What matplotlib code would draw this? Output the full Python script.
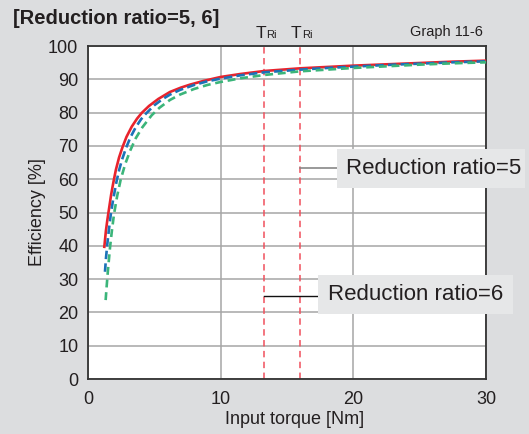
import matplotlib
matplotlib.use("Agg")
import matplotlib.pyplot as plt
from matplotlib.patches import Rectangle

plt.rcParams['font.family'] = ['Liberation Sans', 'DejaVu Sans']

# Data
red_x = [1.23, 1.35, 1.45, 1.58, 1.75, 1.91, 2.1, 2.34, 2.59, 2.9, 3.3, 3.7, 4.05, 4.6, 5.3, 6.18, 7.0,
         7.69, 8.7, 10, 11.5, 13.3, 16, 18, 20, 22.5, 25, 27.5, 30]
red_y = [39.7, 44.5, 47.5, 51, 55.5, 59, 62.8, 66.5, 69.5, 72.7, 75.8, 78.2, 79.9, 82.0, 84.1, 86.2, 87.5,
         88.4, 89.5, 90.7, 91.6, 92.5, 93.3, 93.7, 94.1, 94.5, 94.9, 95.3, 95.6]

blue_x = [1.28, 1.36, 1.45, 1.58, 1.73, 1.9, 2.16, 2.35, 2.56, 2.86, 3.2, 3.6, 4.0, 4.37, 5.0, 5.6, 6.18,
          6.93, 8.0, 9.0, 10, 11.5, 13.3, 16, 18, 20, 22.5, 25, 27.5, 30]
blue_y = [32.2, 36.5, 40.3, 45, 49.8, 54, 59.5, 62.8, 65.8, 69.3, 72.6, 75.6, 78, 79.7, 82.2, 84, 85.4,
          86.8, 88.3, 89.4, 90.2, 91.2, 92.1, 92.9, 93.4, 93.8, 94.3, 94.7, 95.1, 95.4]

green_x = [1.33, 1.4, 1.5, 1.66, 1.8, 1.96, 2.2, 2.46, 2.8, 3.17, 3.6, 4.1, 4.8, 5.4, 6.18, 6.93, 8.0,
           9.0, 10, 11.5, 13.3, 16, 18, 20, 22.5, 25, 27.5, 30]
green_y = [23.7, 27.5, 32.5, 39.5, 44.5, 49.5, 55, 59.8, 64.5, 68.5, 72.3, 75.6, 79.2, 81.5, 83.8, 85.4,
           87.1, 88.3, 89.2, 90.3, 91.3, 92.4, 92.9, 93.4, 93.9, 94.4, 94.8, 95.1]

tri_x = [13.3, 16.0]
x_ticks = [0, 10, 20, 30]
y_ticks = [0, 10, 20, 30, 40, 50, 60, 70, 80, 90, 100]

BG = '#dcdddf'
fig = plt.figure(figsize=(5.29, 4.34), dpi=100, facecolor=BG)
ax = fig.add_axes([88/529, 1-379/434, (486-88)/529, (379-46)/434])
ax.set_facecolor('white')
ax.set_xlim(0, 30)
ax.set_ylim(0, 100)
ax.set_xticks(x_ticks)
ax.set_yticks(y_ticks)
ax.grid(True, color='#a6a6a6', linewidth=1.1, zorder=1)
ax.set_axisbelow(True)
ax.tick_params(length=0, labelsize=13, colors='#231f20')
ax.tick_params(axis='x', pad=9)
ax.tick_params(axis='y', pad=7)
for s in ax.spines.values():
    s.set_color('#333333')
    s.set_linewidth(1.3)

ax.plot(red_x, red_y, color='#e8232d', linewidth=1.9, zorder=3, solid_joinstyle='round')
ax.plot(blue_x, blue_y, color='#1c72b8', linewidth=1.9, dashes=(3.2, 1.6), zorder=4,
        dash_joinstyle='round')
ax.plot(green_x, green_y, color='#3bb57a', linewidth=1.9, dashes=(3.0, 1.8), zorder=5,
        dash_joinstyle='round')

for xv in tri_x:
    ax.axvline(xv, color='#f0505c', linewidth=1.1, dashes=(4.2, 2.9), zorder=2)
    ax.annotate('T', xy=(xv, 100), xycoords='data', xytext=(1, 6), textcoords='offset points',
                ha='right', va='baseline', fontsize=12.5, color='#231f20', annotation_clip=False)
    ax.annotate('Ri', xy=(xv, 100), xycoords='data', xytext=(1, 6), textcoords='offset points',
                ha='left', va='baseline', fontsize=8, color='#231f20', annotation_clip=False)

# Annotation boxes
BOX = '#e6e7e8'
ax.plot([16.0, 18.77], [63.4, 63.4], color='#888888', linewidth=1.2, zorder=6)
ax.add_patch(Rectangle((18.77, 57.36), 32.94-18.77, 69.07-57.36, facecolor=BOX,
                       edgecolor='none', clip_on=False, zorder=7))
ax.text(19.45, 63.2, 'Reduction ratio=5', fontsize=16, color='#231f20', va='center', ha='left',
        zorder=8, clip_on=False)

ax.plot([13.3, 17.34], [24.9, 24.9], color='#111111', linewidth=1.0, zorder=6)
ax.add_patch(Rectangle((17.34, 19.5), 32.03-17.34, 31.2-19.5, facecolor=BOX,
                       edgecolor='none', clip_on=False, zorder=7))
ax.text(18.1, 25.4, 'Reduction ratio=6', fontsize=16, color='#231f20', va='center', ha='left',
        zorder=8, clip_on=False)

fig.text(13/529, 1-18/434, '[Reduction ratio=5, 6]', fontsize=14.5, fontweight='bold',
         color='#231f20', ha='left', va='center')
fig.text(483/529, 1-32/434, 'Graph 11-6', fontsize=10.5, color='#231f20', ha='right', va='center')
fig.text(38/529, 1-212/434, 'Efficiency [%]', fontsize=13, color='#231f20', rotation=90,
         ha='center', va='center')
fig.text(295/529, 1-419/434, 'Input torque [Nm]', fontsize=13, color='#231f20',
         ha='center', va='center')

fig.savefig('out.png', dpi=100, facecolor=BG)
